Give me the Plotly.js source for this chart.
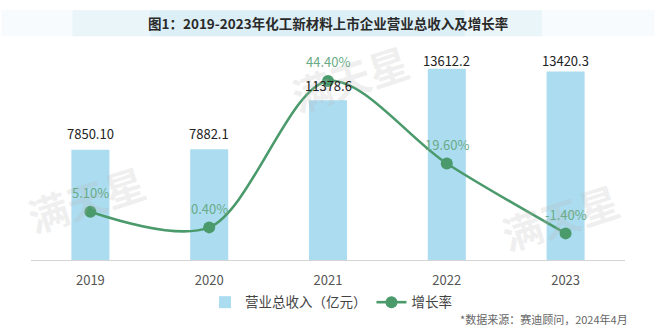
<!DOCTYPE html>
<html>
<head>
<meta charset="utf-8">
<script src="https://cdn.plot.ly/plotly-3.0.1.min.js"></script>
<style>
html,body{margin:0;padding:0;background:#fff;}
#chart{width:660px;height:330px;}
</style>
</head>
<body>
<div id="chart"></div>
<script>
const years = ['2019', '2020', '2021', '2022', '2023'];
const revenue = [7850.10, 7882.1, 11378.6, 13612.2, 13420.3];
const revenueLabels = ['7850.10', '7882.1', '11378.6', '13612.2', '13420.3'];
const growth = [5.10, 0.40, 44.40, 19.60, -1.40];
const growthLabels = ['5.10%', '0.40%', '44.40%', '19.60%', '-1.40%'];

const titleText = '图1：2019-2023年化工新材料上市企业营业总收入及增长率';
const seriesNames = ['营业总收入（亿元）', '增长率'];
const sourceText = '*数据来源：赛迪顾问，2024年4月';

const FONT = '"Noto Sans CJK SC", "Noto Sans", sans-serif';
const barColor = '#abdcf0';
const lineColor = '#4b9a6c';
const pctColor = '#6aab87';

const revShift = [16, 16, 15, 8, 11];

const traces = [
  {
    type: 'bar', x: years, y: revenue, name: seriesNames[0],
    marker: {color: barColor}, width: 0.32, hoverinfo: 'skip'
  },
  {
    type: 'scatter', mode: 'lines+markers', x: years, y: growth, yaxis: 'y2',
    name: seriesNames[1],
    line: {color: lineColor, width: 2.6, shape: 'spline', smoothing: 0.9},
    marker: {color: lineColor, size: 12}, hoverinfo: 'skip'
  }
];

const annotations = [];

// faint watermarks (drawn first so they stay underneath the labels)
[[0.092, 0.29], [0.537, 0.86], [0.89, 0.205]].forEach(p => {
  annotations.push({
    xref: 'paper', yref: 'paper', x: p[0], y: p[1], text: '<b>满天星</b>',
    showarrow: false, textangle: -18, xanchor: 'center', yanchor: 'middle',
    font: {family: FONT, size: 40, color: 'rgba(185,185,185,0.22)'}
  });
});

years.forEach((yr, i) => {
  annotations.push({
    x: i, y: revenue[i], xref: 'x', yref: 'y', text: revenueLabels[i],
    showarrow: false, yanchor: 'middle', yshift: revShift[i],
    font: {family: FONT, size: 13, color: '#222'}
  });
  annotations.push({
    x: i, y: growth[i], xref: 'x', yref: 'y2', text: growthLabels[i],
    showarrow: false, yanchor: 'middle', yshift: 19,
    font: {family: FONT, size: 13, color: pctColor}
  });
});

annotations.push({
  xref: 'paper', yref: 'paper', x: 0.5, y: 1.117, text: '<b>' + titleText + '</b>',
  showarrow: false, xanchor: 'center', yanchor: 'middle',
  font: {family: FONT, size: 13.5, color: '#2a2a2a'}
});
annotations.push({
  xref: 'paper', yref: 'paper', x: 1.008, y: -0.276, text: sourceText,
  showarrow: false, xanchor: 'right', yanchor: 'middle',
  font: {family: FONT, size: 11, color: '#666'}
});

// title band (layered rectangles for gradient look)
const shapes = [];
const bandLayers = [[0.0, 1.07, 'rgba(190,225,240,0.12)'], [0.12, 0.88, 'rgba(190,225,240,0.22)'], [0.25, 0.75, 'rgba(190,225,240,0.3)']];
bandLayers.forEach(b => {
  shapes.push({
    type: 'rect', xref: 'paper', yref: 'paper', x0: b[0] - 0.05, x1: b[1] - 0.02,
    y0: 1.056, y1: 1.178, line: {width: 0}, fillcolor: b[2], layer: 'below'
  });
});

const layout = {
  width: 660, height: 330,
  margin: {l: 30.5, r: 34.5, t: 48, b: 68},
  paper_bgcolor: '#ffffff', plot_bgcolor: 'rgba(0,0,0,0)',
  font: {family: FONT, size: 13, color: '#555'},
  showlegend: true,
  legend: {
    orientation: 'h', x: 0.505, xanchor: 'center', y: -0.2, yanchor: 'middle',
    font: {family: FONT, size: 13.5, color: '#444'}, bgcolor: 'rgba(0,0,0,0)',
    traceorder: 'normal'
  },
  xaxis: {
    type: 'category', range: [-0.5, 4.5], showline: true, linecolor: '#d4d4d4', linewidth: 1,
    showgrid: false, zeroline: false, ticks: '', ticklabelstandoff: 8,
    tickfont: {family: FONT, size: 13, color: '#555'}
  },
  yaxis: {range: [0, 15090], showgrid: false, zeroline: false, showticklabels: false, showline: false},
  yaxis2: {range: [-9.4, 54.3], overlaying: 'y', side: 'right', showgrid: false, zeroline: false, showticklabels: false, showline: false},
  annotations: annotations,
  shapes: shapes,
  bargap: 0.5
};

Plotly.newPlot('chart', traces, layout, {displayModeBar: false, staticPlot: true});
</script>
</body>
</html>
